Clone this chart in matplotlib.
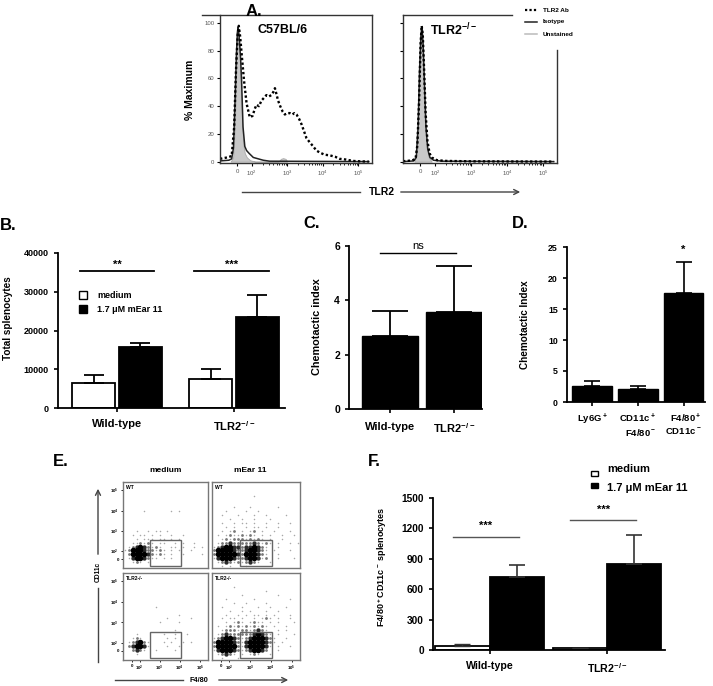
import numpy as np
import matplotlib.pyplot as plt
from matplotlib.lines import Line2D
from matplotlib.patches import Rectangle, FancyArrowPatch

plt.rcParams['font.family'] = ['Liberation Sans', 'DejaVu Sans']
plt.rcParams['font.weight'] = 'bold'
plt.rcParams['mathtext.default'] = 'regular'
plt.rcParams['axes.linewidth'] = 1.3

NARROW = ['Liberation Sans Narrow', 'Liberation Sans', 'DejaVu Sans']

# ---------------- data ----------------
# A: flow histograms, x in decades of a biexponential axis, y in % of max
hist_ticks = [1.58, 2, 3, 4, 5]
hist_ticklabels = ['0', '10$^2$', '10$^3$', '10$^4$', '10$^5$']
pct_ticks = [0, 20, 40, 60, 80, 100]

wt_ab_x = [1.10, 1.30, 1.43, 1.50, 1.55, 1.60, 1.63, 1.67, 1.72, 1.78, 1.85, 1.94, 2.02, 2.08,
           2.13, 2.20, 2.27, 2.34, 2.41, 2.48, 2.55, 2.60, 2.65, 2.70, 2.74, 2.80, 2.87, 2.93,
           3.00, 3.07, 3.14, 3.20, 3.26, 3.33, 3.40, 3.47, 3.54, 3.63, 3.73, 3.82, 3.92, 4.05,
           4.20, 4.35, 4.48, 4.65, 4.85, 5.05, 5.30]
wt_ab_y = [2, 3, 4, 25, 65, 92, 98, 90, 75, 58, 42, 32, 33, 38,
           41, 40, 44, 46, 48, 47, 48, 50, 53, 48, 44, 40, 36, 34,
           35, 35, 34, 35, 34, 31, 27, 22, 17, 14, 11, 8, 6.5, 5,
           4.5, 3.5, 2, 1.5, 0.5, 0.2, 0]
wt_iso_x = [1.10, 1.35, 1.43, 1.48, 1.52, 1.56, 1.59, 1.61, 1.64, 1.68, 1.71, 1.75, 1.80, 1.85,
            1.92, 2.04, 2.18, 2.32, 2.50, 5.30]
wt_iso_y = [0.5, 1, 2, 10, 40, 75, 93, 97, 90, 75, 58, 25, 11, 8, 6, 3, 2, 1, 0.3, 0]
wt_un_x = [1.40, 1.47, 1.52, 1.56, 1.59, 1.62, 1.65, 1.68, 1.72, 1.76, 1.80, 1.86, 1.95, 2.10,
           2.75, 2.82, 2.88, 2.95, 3.00]
wt_un_y = [0, 3, 25, 70, 90, 95, 85, 60, 30, 12, 6, 3, 1, 0, 0, 2, 2.5, 2, 0]

ko_ab_x = [1.10, 1.35, 1.45, 1.50, 1.55, 1.59, 1.62, 1.65, 1.69, 1.73, 1.78, 1.84, 1.90, 1.97,
           2.05, 2.30, 3.00, 5.30]
ko_ab_y = [0.3, 0.8, 2, 12, 45, 85, 98, 92, 65, 35, 15, 6, 3, 2, 1, 0.5, 0.2, 0]
ko_iso_x = [1.10, 1.40, 1.47, 1.52, 1.56, 1.60, 1.63, 1.66, 1.70, 1.74, 1.79, 1.85, 1.95, 2.20, 5.30]
ko_iso_y = [0, 0.5, 3, 25, 65, 92, 97, 85, 55, 25, 9, 3, 1, 0.3, 0]
ko_un_x = [1.42, 1.50, 1.54, 1.58, 1.61, 1.64, 1.67, 1.71, 1.76, 1.82, 1.90]
ko_un_y = [0, 10, 45, 80, 92, 85, 60, 30, 10, 3, 0]

# B: total splenocytes
groups = ['Wild-type', 'TLR2$^{-/-}$']
b_medium = [6450, 7400]
b_medium_err = [2050, 2750]
b_mear = [15700, 23500]
b_mear_err = [1000, 5700]
b_stars = ['**', '***']

# C: chemotactic index
c_vals = [2.70, 3.58]
c_err = [0.92, 1.69]

# D: chemotactic index by subset
d_labels = ['Ly6G$^+$', 'CD11c$^+$\nF4/80$^-$', 'F4/80$^+$\nCD11c$^-$']
d_vals = [2.6, 2.06, 17.65]
d_err = [0.8, 0.53, 4.92]

# F: F4/80+CD11c- splenocytes
f_medium = [40, 15]
f_medium_err = [22, 9]
f_mear = [722, 844]
f_mear_err = [115, 289]

# E: dot plots read off the picture as density maps (22 x 22 cells)
# '.' sparse, ':' light, '+' dense, '#' very dense
e_wt_medium = [
    "                      ",
    "                      ",
    "                      ",
    "                      ",
    "                      ",
    "                      ",
    "                      ",
    "     .      . .       ",
    "                      ",
    "                      ",
    "                      ",
    "                      ",
    "   .  . .. .          ",
    "  . .. . .  .  .      ",
    "   . ... .. . .       ",
    "  ..:.:. ..  . .  .   ",
    " .:+#+:.:.  .. .  . . ",
    ".:###+::.:. . .  .    ",
    " :####+:.:. .  .    . ",
    " .+##+:.. . .         ",
    "  .:. .               ",
    "                      ",
]
e_wt_mear = [
    "                      ",
    "                      ",
    "                      ",
    "          .           ",
    "                      ",
    "                      ",
    "     .   .      .     ",
    "   .    .  .          ",
    "  .   .   .  .    .   ",
    "    .  .  .   .       ",
    "  .  . .. .  .  .  .  ",
    "   . .  . .. .  .     ",
    "  . .: . .: .  .   .  ",
    " . .:..:.:. . .  .  . ",
    "  .:.:::.:.:. .  .    ",
    " .::+:::::+:.:. .  . .",
    ".:+##++:++#+:.  .     ",
    ":####+::+##+:. .   .  ",
    ":#####+:###+:.  .     ",
    ".+###+::+##+.:  .   . ",
    " .:+:.:.:+:.  .       ",
    "  . .   .             ",
]
e_ko_medium = [
    "                      ",
    "                      ",
    "                      ",
    "                      ",
    "                      ",
    "                      ",
    "                      ",
    "                      ",
    "        .             ",
    "                      ",
    "              .       ",
    "           .     .    ",
    "         .    .       ",
    "                      ",
    "             .        ",
    "   .      .  .  .     ",
    "  .:.      . .        ",
    " .:+#:.   . .  . .    ",
    " :+##+.    .  .       ",
    "  :+:.  .    .        ",
    "   .                  ",
    "                      ",
]
e_ko_mear = [
    "                      ",
    "                      ",
    "                      ",
    "     .                ",
    "             .        ",
    "       .        .     ",
    "   .      .        .  ",
    "     .  .    .        ",
    "  .    .   .  .   .   ",
    "    .  . .   .  .     ",
    "   .  . . .. . .   .  ",
    "  . .. .  . .:. .  .  ",
    "   . .:. .:.. . .   . ",
    " . .:.:.:.:.:. .  .   ",
    "  .:::.::.:+:.  . .   ",
    " .:+::::::+#+:. .   . ",
    ".:+##+:.:+###+:.  .   ",
    ":####+:.+####+:. .    ",
    ":#####:.+####+. .  .  ",
    ".+###+:.:+##+:  .     ",
    " .:+:. . .:.  .       ",
    "  .   .               ",
]
e_lo, e_hi = 1.18, 5.4
e_gate_x = (2.50, 4.05)
e_gate_y = (1.29, 2.53)
e_ticks = [1.62, 2, 3, 4, 5]
e_ticklabels = ['0', '10$^2$', '10$^3$', '10$^4$', '10$^5$']

# ---------------- figure helpers ----------------
W, H = 713, 686
fig = plt.figure(figsize=(W / 100, H / 100), dpi=100)


def box(l, t, r, b):
    return fig.add_axes([l / W, 1 - b / H, (r - l) / W, (b - t) / H])


def fx(x):
    return x / W


def fy(y):
    return 1 - y / H


def ftext(x, y, s, **kw):
    fig.text(fx(x), fy(y), s, **kw)


def fline(x0, y0, x1, y1, **kw):
    fig.add_artist(Line2D([fx(x0), fx(x1)], [fy(y0), fy(y1)], transform=fig.transFigure, **kw))


def farrow(x0, y0, x1, y1, color='#444'):
    fig.add_artist(FancyArrowPatch((fx(x0), fy(y0)), (fx(x1), fy(y1)), transform=fig.transFigure,
                                   arrowstyle='->', mutation_scale=9, lw=1.0, color=color))


def frect(x0, y0, w, h, fc):
    fig.add_artist(Rectangle((fx(x0), fy(y0 + h)), w / W, h / H, transform=fig.transFigure,
                             facecolor=fc, edgecolor='black', lw=1.0))


def bar_axes(ax, yticks, fs, fam=None):
    for s in ['top', 'right']:
        ax.spines[s].set_visible(False)
    ax.set_yticks(yticks)
    ax.tick_params(axis='both', direction='out', length=3, width=1.2, labelsize=fs)
    if fam:
        for lab in ax.get_yticklabels():
            lab.set_family(fam)


# ---------------- A ----------------
ftext(246, 12, 'A.', fontsize=12, va='center')
minor = [k + np.log10(m) for k in range(2, 5) for m in range(2, 10)]


def hist_panel(ax, ab_x, ab_y, iso_x, iso_y, un_x, un_y, title, tx):
    ax.fill_between(un_x, un_y, color='#c8c8c8', lw=0.6, edgecolor='#aaaaaa')
    ax.plot(iso_x, iso_y, color='#222222', lw=1.1)
    ax.plot(ab_x, ab_y, color='black', lw=1.7, ls=(0, (1, 1)))
    ax.set_xlim(1.1, 5.39)
    ax.set_ylim(-1, 105.8)
    ax.set_xticks(hist_ticks)
    ax.set_xticklabels(hist_ticklabels)
    ax.set_xticks(minor, minor=True)
    ax.set_yticks(pct_ticks)
    ax.tick_params(axis='both', which='major', direction='out', length=2, width=0.8,
                   labelsize=4.3, labelcolor='#555555', pad=2)
    ax.tick_params(axis='x', which='minor', direction='out', length=1.2, width=0.6)
    for lab in ax.get_xticklabels() + ax.get_yticklabels():
        lab.set_fontweight('normal')
    for s in ax.spines.values():
        s.set_linewidth(1.0)
        s.set_color('#333333')
    ax.text(tx, 0.9, title, transform=ax.transAxes, fontsize=9, ha='center', va='center')


axA1 = box(220, 15, 372, 163)
hist_panel(axA1, wt_ab_x, wt_ab_y, wt_iso_x, wt_iso_y, wt_un_x, wt_un_y, 'C57BL/6', 0.41)
axA1.spines['top'].set_visible(False)
fline(202, 15, 372, 15, color='#333333', lw=1.0)

axA2 = box(403, 15, 557, 163)
hist_panel(axA2, ko_ab_x, ko_ab_y, ko_iso_x, ko_iso_y, ko_un_x, ko_un_y, 'TLR2$^{-/-}$', 0.33)
axA2.spines['top'].set_visible(False)
axA2.spines['right'].set_visible(False)
fline(403, 15, 512, 15, color='#333333', lw=1.0)
fline(557, 50, 557, 163, color='#333333', lw=1.0)
axA2.set_yticklabels([])

ftext(190, 90, '% Maximum', fontsize=7.5, rotation=90, ha='center', va='center')
fline(242, 192, 360, 192, color='#444', lw=1.0)
ftext(382, 192, 'TLR2', fontsize=7.5, ha='center', va='center')
farrow(398, 192, 523, 192)

leg_items = [('TLR2 Ab', dict(color='black', lw=1.6, ls=(0, (1, 1)))),
             ('Isotype', dict(color='#222222', lw=1.1)),
             ('Unstained', dict(color='#bbbbbb', lw=1.1))]
for i, (name, st) in enumerate(leg_items):
    yy = 10 + 12 * i
    fline(525, yy, 537, yy, **st)
    ftext(543, yy, name, fontsize=4.6, va='center')

# ---------------- B ----------------
ftext(0, 226, 'B.', fontsize=12, va='center')
axB = box(58, 253, 285, 408)
xg = np.arange(len(groups))
axB.bar(xg - 0.2, b_medium, 0.37, color='white', edgecolor='black', lw=1.3)
axB.bar(xg + 0.2, b_mear, 0.37, color='black', edgecolor='black', lw=1.3)
axB.errorbar(xg - 0.2, b_medium, yerr=[np.zeros(2), b_medium_err], fmt='none', ecolor='black',
             elinewidth=1.3, capsize=7.5, capthick=1.3)
axB.errorbar(xg + 0.2, b_mear, yerr=[np.zeros(2), b_mear_err], fmt='none', ecolor='black',
             elinewidth=1.3, capsize=7.5, capthick=1.3)
for i, st in enumerate(b_stars):
    c = xg[i] - 0.02 * i
    axB.plot([c - 0.32, c + 0.32], [35400, 35400], color='black', lw=1.3)
    axB.text(c, 37000, st, ha='center', va='center', fontsize=8)
axB.set_xlim(-0.504, 1.436)
axB.set_ylim(0, 40000)
axB.set_xticks(xg)
axB.set_xticklabels(groups)
bar_axes(axB, [0, 10000, 20000, 30000, 40000], 6.5, NARROW)
axB.tick_params(axis='x', labelsize=8, pad=5)
ftext(8, 318, 'Total splenocytes', fontsize=7.2, rotation=90, ha='center', va='center', family=NARROW)
frect(79, 291, 8, 8, 'white')
frect(79, 305, 8, 8, 'black')
ftext(97, 295, 'medium', fontsize=6.5, va='center', family=NARROW)
ftext(97, 309, '1.7 μM mEar 11', fontsize=6.5, va='center', family=NARROW)

# ---------------- C ----------------
ftext(303, 223, 'C.', fontsize=12, va='center')
axC = box(349, 246, 482, 409)
xc = np.arange(len(groups))
axC.bar(xc, c_vals, 0.875, color='black', edgecolor='black')
axC.errorbar(xc, c_vals, yerr=[np.zeros(2), c_err], fmt='none', ecolor='black',
             elinewidth=1.3, capsize=13, capthick=1.3)
axC.plot([-0.16, 1.03], [5.75, 5.75], color='black', lw=1.0)
axC.text(0.44, 5.8, 'ns', ha='center', va='bottom', fontsize=8, fontweight='normal')
axC.set_xlim(-0.64, 1.44)
axC.set_ylim(0, 6)
axC.set_xticks(xc)
axC.set_xticklabels(groups)
bar_axes(axC, [0, 2, 4, 6], 7.5)
axC.tick_params(axis='x', labelsize=8, pad=6)
ftext(317, 327, 'Chemotactic index', fontsize=7.8, rotation=90, ha='center', va='center')

# ---------------- D ----------------
ftext(512, 223, 'D.', fontsize=12, va='center')
axD = box(567, 247, 705, 402)
xd = np.arange(len(d_vals))
axD.bar(xd, d_vals, 0.87, color='black', edgecolor='black')
axD.errorbar(xd, d_vals, yerr=[np.zeros(3), d_err], fmt='none', ecolor='black',
             elinewidth=1.2, capsize=6, capthick=1.2)
axD.text(2, 24.6, '*', ha='center', va='center', fontsize=8)
axD.set_xlim(-0.547, 2.47)
axD.set_ylim(0, 25)
axD.set_xticks(xd)
axD.set_xticklabels(d_labels, multialignment='right')
bar_axes(axD, [0, 5, 10, 15, 20, 25], 6.3, NARROW)
axD.tick_params(axis='x', labelsize=6.8, pad=4)
for lab in axD.get_xticklabels():
    lab.set_family(NARROW)
ftext(525, 325, 'Chemotactic Index', fontsize=7.2, rotation=90, ha='center', va='center', family=NARROW)

# ---------------- E ----------------
ftext(53, 461, 'E.', fontsize=12, va='center')
dot_style = {'.': (1.2, '#a8a8a8'), ':': (4.0, '#777777'), '+': (10.0, '#2a2a2a'), '#': (16.0, '#000000')}


def dot_panel(ax, rows, tag, left, bottom):
    n = 22
    step = (e_hi - e_lo) / n
    for ch, (sz, col) in dot_style.items():
        xs, ys = [], []
        for r, line in enumerate(rows):
            for c, v in enumerate(line.ljust(n)[:n]):
                if v == ch:
                    xs.append(e_lo + (c + 0.5) * step)
                    ys.append(e_hi - (r + 0.5) * step)
        ax.scatter(xs, ys, s=sz, c=col, linewidths=0)
    g = Rectangle((e_gate_x[0], e_gate_y[0]), e_gate_x[1] - e_gate_x[0], e_gate_y[1] - e_gate_y[0],
                  fill=False, edgecolor='#666666', lw=1.0)
    ax.add_patch(g)
    ax.set_xlim(e_lo, e_hi)
    ax.set_ylim(e_lo, e_hi)
    for s in ax.spines.values():
        s.set_color('#777777')
        s.set_linewidth(1.0)
    ax.set_xticks(e_ticks)
    ax.set_yticks(e_ticks)
    ax.tick_params(direction='out', length=1.5, width=0.6, labelsize=3.2, pad=1.5,
                   labelleft=left, labelbottom=bottom, left=left, bottom=bottom)
    ax.set_xticklabels(e_ticklabels)
    ax.set_yticklabels(e_ticklabels)
    ax.text(0.03, 0.96, tag, transform=ax.transAxes, fontsize=3.6, va='top', ha='left')


axE1 = box(123, 482, 208, 568)
dot_panel(axE1, e_wt_medium, 'WT', True, False)
axE2 = box(212, 482, 300, 568)
dot_panel(axE2, e_wt_mear, 'WT', False, False)
axE3 = box(123, 573, 208, 660)
dot_panel(axE3, e_ko_medium, 'TLR2-/-', True, True)
axE4 = box(212, 573, 300, 660)
dot_panel(axE4, e_ko_mear, 'TLR2-/-', False, True)
ftext(166, 470, 'medium', fontsize=6, ha='center', va='center')
ftext(250, 470, 'mEar 11', fontsize=6, ha='center', va='center')
farrow(98, 557, 98, 486)
ftext(98, 572, 'CD11c', fontsize=4.8, rotation=90, ha='center', va='center')
fline(98, 588, 98, 662, color='#444', lw=1.0)
fline(115, 680, 183, 680, color='#444', lw=1.0)
ftext(199, 680, 'F4/80', fontsize=5.2, ha='center', va='center')
farrow(216, 680, 291, 680)

# ---------------- F ----------------
ftext(368, 461, 'F.', fontsize=12, va='center')
axF = box(433, 498, 665, 650)
xf = np.arange(len(groups))
axF.bar(xf - 0.23, f_medium, 0.46, color='white', edgecolor='black', lw=1.3)
axF.bar(xf + 0.23, f_mear, 0.46, color='black', edgecolor='black', lw=1.3)
axF.errorbar(xf - 0.23, f_medium, yerr=[np.zeros(2), f_medium_err], fmt='none', ecolor='#333333',
             elinewidth=1.0, capsize=6, capthick=1.0)
axF.errorbar(xf + 0.23, f_mear, yerr=[np.zeros(2), f_mear_err], fmt='none', ecolor='#333333',
             elinewidth=1.2, capsize=6, capthick=1.2)
axF.plot([-0.31, 0.25], [1116, 1116], color='#555555', lw=1.0)
axF.text(-0.03, 1221, '***', ha='center', va='center', fontsize=8)
axF.plot([0.685, 1.247], [1280, 1280], color='#555555', lw=1.0)
axF.text(0.966, 1379, '***', ha='center', va='center', fontsize=8)
axF.set_xlim(-0.48, 1.49)
axF.set_ylim(0, 1500)
axF.set_xticks(xf)
axF.set_xticklabels(groups)
bar_axes(axF, [0, 300, 600, 900, 1200, 1500], 7.3)
axF.tick_params(axis='x', labelsize=7.7, pad=5)
ftext(382, 567, 'F4/80$^+$CD11c$^-$ splenocytes', fontsize=6.5, rotation=90, ha='center', va='center')
frect(591, 471, 7, 5, 'white')
frect(591, 483, 7, 5, 'black')
ftext(607, 469, 'medium', fontsize=8, va='center')
ftext(607, 488, '1.7 μM mEar 11', fontsize=8, va='center')

fig.savefig('out.png', dpi=100, facecolor='white')
